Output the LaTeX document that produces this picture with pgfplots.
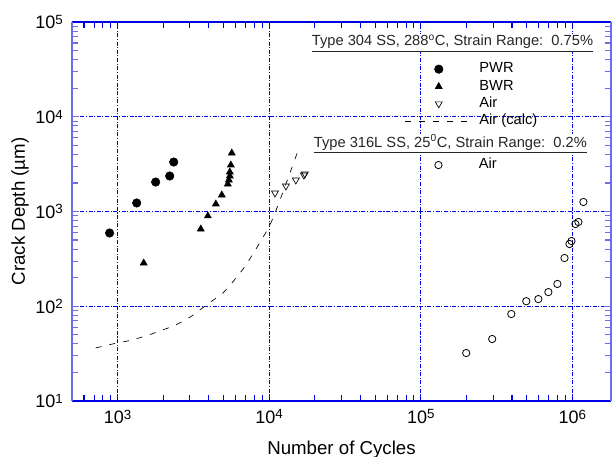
\documentclass[border=0pt]{standalone}
\usepackage{pgfplots}
\pgfplotsset{compat=1.18}
\usepackage{fontspec}
\setmainfont{Liberation Sans}
\newcommand\tp[1]{10\raisebox{3.3pt}{\fontsize{10}{10}\selectfont #1}}
\definecolor{axblue}{RGB}{0,0,230}
\definecolor{ayblue}{RGB}{110,110,235}
\pgfplotsset{
  mkleg/.style={legend image code/.code={\draw[opacity=0,draw=none] (0pt,0pt) -- (50pt,0pt); \draw[mark repeat=2,mark phase=2,##1] plot coordinates {(0pt,0pt) (25pt,0pt) (50pt,0pt)};}},
  lnleg/.style={legend image code/.code={\draw[##1] (0pt,0pt) -- (50pt,0pt);}},
}
\begin{document}
\begin{tikzpicture}
\begin{axis}[
  xmode=log, ymode=log,
  scale only axis, width=404.25pt, height=284.25pt,
  xmin=500, xmax=1.8e6, ymin=10, ymax=1e5,
  at={(0pt,0pt)}, anchor=south west,
  legend style={at={(rel axis cs:0.618,0.894)}, anchor=north west, draw=none, fill=none, inner sep=0pt, outer sep=0pt,
      font=\fontsize{11}{13}\selectfont, row sep=2.5pt, column sep=5.25pt,
      nodes={inner sep=0pt, text height=8pt, text depth=2.5pt}},
  legend cell align=left,
  separate axis lines,
  every outer x axis line/.append style={axblue, line width=1.1pt},
  every outer y axis line/.append style={ayblue, line width=1.6pt},
  xtick={1000,10000,100000,1000000},
  xticklabels={\tp{3},\tp{4},\tp{5},\tp{6}},
  minor xtick={600,700,800,900,2000,3000,4000,5000,6000,7000,8000,9000,
    20000,30000,40000,50000,60000,70000,80000,90000,
    200000,300000,400000,500000,600000,700000,800000,900000},
  ytick={10,100,1000,10000,100000},
  yticklabels={\tp{1},\tp{2},\tp{3},\tp{4},\tp{5}},
  minor ytick={20,30,40,50,60,70,80,90,200,300,400,500,600,700,800,900,
    2000,3000,4000,5000,6000,7000,8000,9000,20000,30000,40000,50000,60000,70000,80000,90000},
  tick align=inside,
  major tick length=5pt, minor tick length=4.5pt,
  x tick style={axblue, line width=0.8pt},
  minor x tick style={axblue, line width=0.8pt},
  y tick style={ayblue, line width=0.8pt},
  minor y tick style={ayblue, line width=0.8pt},
  grid=major,
  major grid style={axblue, line width=0.6pt, dash pattern=on 3pt off 1.2pt on 0.8pt off 1.2pt},
  xticklabel style={font=\fontsize{13.5}{16}\selectfont, inner sep=0pt, yshift=-6.4pt},
  yticklabel style={font=\fontsize{13.5}{16}\selectfont, inner sep=0pt, xshift=-6.75pt},
  xlabel={Number of Cycles},
  xlabel style={at={(axis description cs:0.5,-0.1405)}, anchor=base, inner sep=0pt, font=\fontsize{14}{16}\selectfont},
  ylabel={Crack Depth (µm)},
  ylabel style={at={(axis description cs:-0.0872,0.5)}, anchor=base, inner sep=0pt, font=\fontsize{14}{16}\selectfont},
]
\addplot[only marks, mark=*, mark size=3.2pt, black, mkleg] coordinates {
  (885,593) (1336,1230) (1782,2046) (2207,2370) (2344,3327)};
\addlegendentry{PWR}
\addplot[only marks, mark=triangle*, mark size=3pt, black, mkleg] coordinates {
  (1486,286) (3537,653) (3937,897) (4447,1200) (4868,1493) (5333,1950)
  (5418,2150) (5500,2370) (5500,2612) (5585,3096) (5665,4143)};
\addlegendentry{BWR}
\addplot[only marks, mark=triangle, mark size=3pt, black, mark options={rotate=180, line width=0.5pt}, mkleg] coordinates {
  (10920,1567) (12890,1858) (15000,2150) (16940,2425) (17200,2489)};
\addlegendentry{Air}
\addplot[black, line width=0.5pt, dash pattern=on 4.5pt off 6pt, smooth, lnleg] coordinates {
  (716,36.3) (927,40.0) (1164,43.0) (1531,48.5) (1895,54.8) (2417,63.4) (3084,78.9)
  (3937,106) (4946,138) (6119,204) (7230,293) (9950,686) (11770,1321) (13710,2549) (15720,4677)};
\addlegendentry{Air (calc)}
\node[anchor=base west, inner sep=0.5pt, fill=white, text=black!85, font=\fontsize{11}{13}\selectfont]
  at (rel axis cs:0.4434,0.9367) {\underline{Type 304 SS, 288\textsuperscript{o}C, Strain Range:\ \ 0.75\%}};
\node[anchor=base west, inner sep=0.5pt, fill=white, text=black!85, font=\fontsize{11}{13}\selectfont]
  at (rel axis cs:0.4471,0.670) {\underline{Type 316L SS, 25\textsuperscript{0}C, Strain Range:\ \ 0.2\%}};
\end{axis}
\begin{axis}[
  xmode=log, ymode=log,
  scale only axis, width=404.25pt, height=284.25pt,
  xmin=500, xmax=1.8e6, ymin=10, ymax=1e5,
  at={(0pt,0pt)}, anchor=south west, hide axis,
  legend style={at={(rel axis cs:0.618,0.641)}, anchor=north west, draw=none, fill=none, inner sep=0pt, outer sep=0pt,
      font=\fontsize{11}{13}\selectfont, row sep=2.5pt, column sep=5.25pt,
      nodes={inner sep=0pt, text height=8pt, text depth=2.5pt}},
  legend cell align=left,
]
\addplot[only marks, mark=o, mark size=2.75pt, black, mark options={line width=0.6pt}, mkleg] coordinates {
  (199500,32.1) (296000,45.1) (396000,82.8) (497000,113) (597000,119) (695000,141)
  (797000,172) (888000,323) (958000,454) (987000,488) (1048000,738) (1097000,775) (1183000,1260)};
\addlegendentry{Air}
\end{axis}
\pgfresetboundingbox
\path (-54pt,-42pt) rectangle (405pt,300.75pt);
\end{tikzpicture}
\end{document}
